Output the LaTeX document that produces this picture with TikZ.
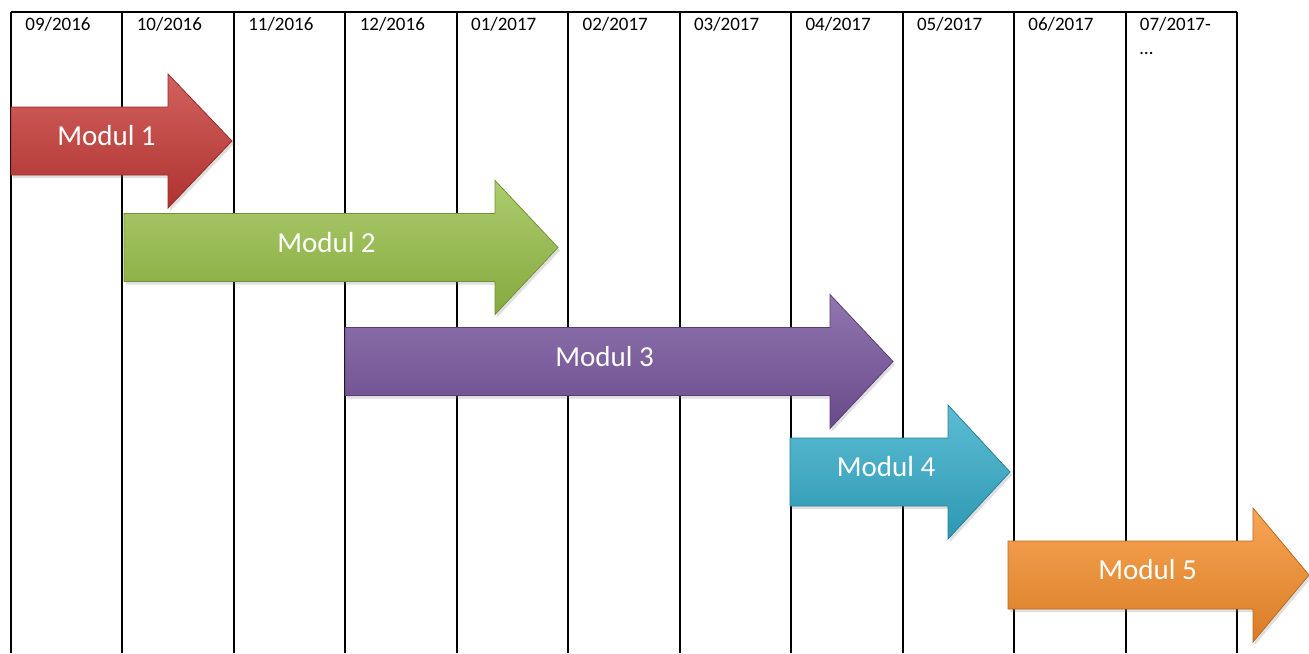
\documentclass[tikz,border=0pt]{standalone}
\usepackage{fontspec}
\setmainfont{Carlito}
\usetikzlibrary{shadows}

\definecolor{modred}{RGB}{198,58,54}
\definecolor{modgreen}{RGB}{152,192,72}
\definecolor{modpurple}{RGB}{118,84,156}
\definecolor{modcyan}{RGB}{52,172,202}
\definecolor{modorange}{RGB}{246,142,42}

\tikzset{
  grid/.style={line width=1pt, black},
  month/.style={anchor=north west, inner sep=0pt, align=left,
    font=\fontsize{9.5}{12}\selectfont},
  modbody/.style={draw=#1!75!black, line width=0.4pt,
    top color=#1!80!white, bottom color=#1!88!black,
    drop shadow={opacity=0.25, shadow xshift=1pt, shadow yshift=-1.5pt}},
  modtext/.style={text=white, font=\fontsize{14.5}{16}\selectfont, inner sep=0pt}
}

% #1 start, #2 neck, #3 tip, #4 centre y, #5 colour, #6 name, #7 text
\newcommand{\modarrow}[7]{%
  \path[modbody=#5] (#1,#4-34) -- (#2,#4-34) -- (#2,#4-67) -- (#3,#4)
    -- (#2,#4+67) -- (#2,#4+34) -- (#1,#4+34) -- cycle;
  \node[modtext] (#6) at ({(#1+#2)/2+17},#4-5) {#7};
}

\begin{document}
\begin{tikzpicture}[x=0.5pt, y=-0.5pt]
  \useasboundingbox (0,0) rectangle (1309,653);
  % table
  \draw[grid] (11,12) -- (1237,12);
  \foreach \i in {0,...,11}
  {
    \draw[grid] (11+\i*111.45,12) -- ++(0,641);
  }
  \foreach \m [count=\i from 0] in {09/2016,10/2016,11/2016,12/2016,01/2017,02/2017,03/2017,04/2017,05/2017,06/2017,{07/2017-\\…}}
  {
    \node[month] (h\i) at (25+\i*111.45,17) {\m};
  }
  % modules
  \modarrow{11}{168}{232}{141}{modred}{m1}{Modul 1}
  \modarrow{124}{495}{558}{247.5}{modgreen}{m2}{Modul 2}
  \modarrow{345}{830}{893}{361.5}{modpurple}{m3}{Modul 3}
  \modarrow{790}{948}{1010}{472}{modcyan}{m4}{Modul 4}
  \modarrow{1008}{1253}{1309}{575}{modorange}{m5}{Modul 5}
\end{tikzpicture}
\end{document}
